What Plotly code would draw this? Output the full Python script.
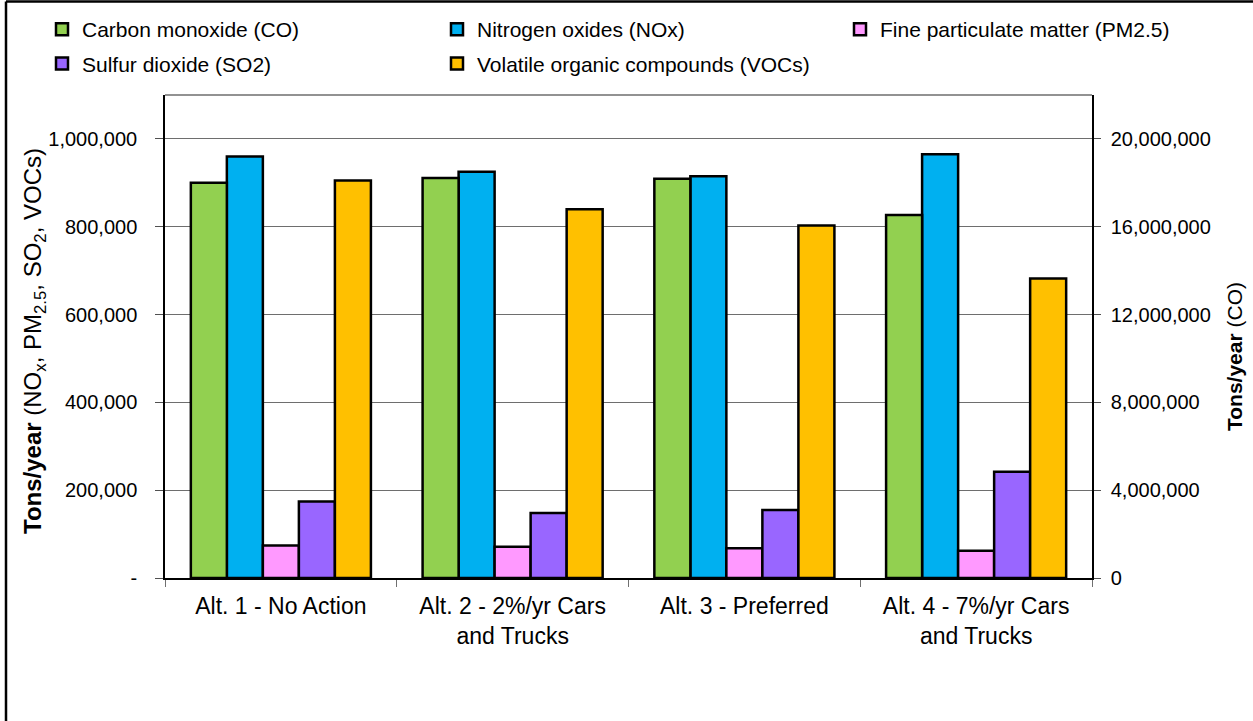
import plotly.graph_objects as go

# Alternatives compared
alternatives = [
    "Alt. 1 - No Action",
    "Alt. 2 - 2%/yr Cars<br>and Trucks",
    "Alt. 3 - Preferred",
    "Alt. 4 - 7%/yr Cars<br>and Trucks",
]

# Emissions, tons/year
co = [18000000, 18220000, 18180000, 16530000]      # right axis
nox = [960000, 925000, 915000, 965000]
pm25 = [74000, 71000, 68000, 62000]
so2 = [174000, 148000, 155000, 242000]
vocs = [905000, 840000, 803000, 682000]

left_ticks = [0, 200000, 400000, 600000, 800000, 1000000]
left_ticktext = ["-", "200,000", "400,000", "600,000", "800,000", "1,000,000"]
right_ticks = [0, 4000000, 8000000, 12000000, 16000000, 20000000]
right_ticktext = ["0", "4,000,000", "8,000,000", "12,000,000", "16,000,000", "20,000,000"]

FONT = "Liberation Sans, Arial, sans-serif"

series = [
    ("Carbon monoxide (CO)", co, "#92D050", "y2"),
    ("Nitrogen oxides (NOx)", nox, "#00B0F0", "y"),
    ("Fine particulate matter (PM2.5)", pm25, "#FF99FF", "y"),
    ("Sulfur dioxide (SO2)", so2, "#9966FF", "y"),
    ("Volatile organic compounds (VOCs)", vocs, "#FFC000", "y"),
]
legend_of = ["legend", "legend2", "legend3", "legend", "legend2"]

fig = go.Figure()
for i, (name, vals, color, yax) in enumerate(series):
    fig.add_trace(go.Bar(
        x=alternatives, y=vals, name=name, yaxis=yax,
        offsetgroup=str(i), legendgroup=str(i), legend=legend_of[i],
        marker=dict(color=color, line=dict(color="black", width=2.5)),
    ))

L, R, T, B = 165, 161, 95, 143
W, H = 1253, 721
pw, ph = W - L - R, H - T - B


def px(x):
    return (x - L) / pw


def py(y):
    return (H - B - y) / ph


legend_common = dict(
    orientation="v", font=dict(family=FONT, size=21, color="black"),
    bgcolor="rgba(0,0,0,0)", borderwidth=0, tracegroupgap=4,
    yanchor="top", xanchor="left", y=py(9),
)

fig.update_layout(
    width=W, height=H,
    margin=dict(l=L, r=R, t=T, b=B, autoexpand=False),
    paper_bgcolor="white", plot_bgcolor="white",
    barmode="group", bargap=0.223, bargroupgap=0,
    font=dict(family=FONT, size=20, color="black"),
    legend=dict(legend_common, x=px(42)),
    legend2=dict(legend_common, x=px(437)),
    legend3=dict(legend_common, x=px(840)),
    xaxis=dict(
        showline=True, linecolor="black", linewidth=1.5,
        ticks="outside", tickson="boundaries", ticklen=7, tickcolor="#707070",
        tickfont=dict(size=23), ticklabelstandoff=7, showgrid=False,
    ),
    yaxis=dict(
        range=[0, 1100000], tickvals=left_ticks, ticktext=left_ticktext,
        showline=True, linecolor="black", linewidth=1.5,
        ticks="outside", ticklen=8, tickcolor="#505050", ticklabelstandoff=14,
        showgrid=True, gridcolor="#6e6e6e", gridwidth=1, zeroline=False,
    ),
    yaxis2=dict(
        range=[0, 22000000], tickvals=right_ticks, ticktext=right_ticktext,
        overlaying="y", side="right",
        showline=True, linecolor="black", linewidth=1.5,
        ticks="outside", ticklen=7, tickcolor="#505050", ticklabelstandoff=6,
        showgrid=False, zeroline=False,
    ),
    annotations=[
        dict(text="<b>Tons/year</b> (NO<sub>x</sub>, PM<sub>2.5</sub>, SO<sub>2</sub>, VOCs)",
             xref="paper", yref="paper", x=px(34), y=py(341), textangle=-90,
             showarrow=False, font=dict(family=FONT, size=24, color="black"),
             xanchor="center", yanchor="middle"),
        dict(text="<b>Tons/year</b> (CO)",
             xref="paper", yref="paper", x=px(1234), y=py(357), textangle=-90,
             showarrow=False, font=dict(family=FONT, size=21, color="black"),
             xanchor="center", yanchor="middle"),
    ],
    shapes=[
        # plot-area top edge
        dict(type="line", xref="paper", yref="paper", x0=0, x1=1, y0=1, y1=1,
             line=dict(color="#6e6e6e", width=1.5)),
        # chart frame (top and left edges)
        dict(type="line", xref="paper", yref="paper", x0=px(6), x1=px(1260),
             y0=py(1.5), y1=py(1.5), line=dict(color="black", width=2.5)),
        dict(type="line", xref="paper", yref="paper", x0=px(6), x1=px(6),
             y0=py(1.5), y1=py(730), line=dict(color="black", width=2.5)),
    ],
)

fig.write_html("out.html")
